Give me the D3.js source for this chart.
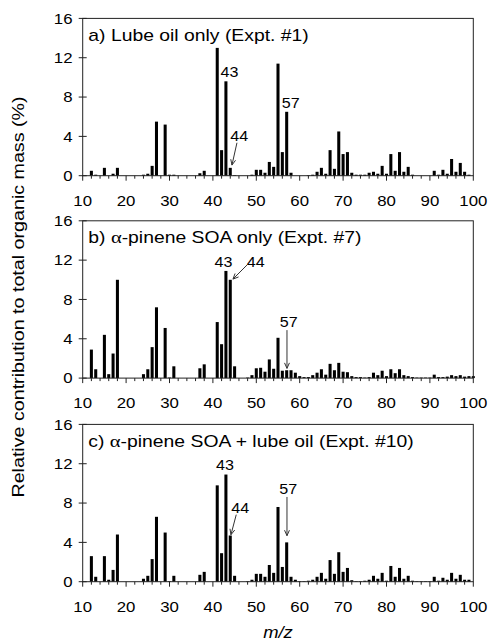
<!DOCTYPE html>
<html><head><meta charset="utf-8">
<script src="https://cdn.jsdelivr.net/npm/d3@7"></script>
<style>body{margin:0;background:#fff}svg{display:block}</style>
</head><body>
<svg id="c" width="488" height="641"></svg>
<script>
// m/z 10..100
const mz = d3.range(10, 101);
const lubeOil = [0,0,0.5,0.1,0,0.8,0,0.2,0.8,0, 0,0,0,0,0.1,0.2,1.0,5.5,0,5.2, 0.1,0.1,0,0,0,0,0,0.25,0.5,0, 0,13.0,2.6,9.6,0.8,0.05,0,0,0,0.1, 0.6,0.6,0.3,1.4,0.9,11.4,2.4,6.5,0.3,0, 0,0,0.05,0.1,0.4,0.8,0.2,2.6,0.7,4.5, 2.2,2.4,0.3,0.1,0.1,0.1,0.3,0.4,0.2,1.0, 0.2,2.2,0.5,2.4,0.4,0.9,0.1,0,0,0, 0,0.5,0.1,0.6,0.2,1.7,0.4,1.3,0.4,0.1, 0];
const pineneSOA = [0,0,2.9,0.9,0,4.4,0.4,2.5,10.0,0, 0,0,0,0,0.4,0.9,3.15,7.2,0,5.1, 0.05,1.2,0,0,0,0,0,1.0,1.4,0, 0,5.7,3.45,10.9,10.0,1.2,0,0,0.05,0.3, 1.0,1.05,0.65,1.9,0.95,4.1,0.75,0.8,0.8,0.55, 0.2,0.1,0.1,0.3,0.55,0.9,0.35,1.45,0.8,1.55, 0.65,0.6,0.2,0.1,0.1,0.05,0.1,0.55,0.3,0.75, 0.2,0.9,0.5,0.9,0.3,0.2,0.1,0.05,0.05,0.05, 0.05,0.35,0.1,0.1,0.15,0.3,0.2,0.3,0.15,0.2, 0.2];
const pineneLube = [0,0,2.6,0.5,0,2.6,0.2,1.2,4.8,0, 0,0,0,0,0.3,0.6,2.3,6.6,0,5.0, 0.05,0.6,0,0,0,0,0,0.7,1.0,0, 0,9.8,2.9,10.9,4.7,0.6,0,0,0.05,0.2, 0.8,0.8,0.5,1.7,0.9,7.6,1.5,4.0,0.5,0.2, 0.05,0.05,0.1,0.2,0.5,0.9,0.3,2.2,0.8,3.0, 1.0,1.4,0.15,0.05,0.05,0.1,0.2,0.6,0.3,0.9, 0.1,1.6,0.5,1.4,0.3,0.6,0.1,0.05,0.05,0.05, 0.05,0.5,0.1,0.4,0.2,0.9,0.3,0.7,0.2,0.2, 0];
const panelTitles = ["a) Lube oil only (Expt. #1)", "b) \u03b1-pinene SOA only (Expt. #7)", "c) \u03b1-pinene SOA + lube oil (Expt. #10)"];
const yTicks = [0, 4, 8, 12, 16];
const xTicks = [10, 20, 30, 40, 50, 60, 70, 80, 90, 100];
const yLabel = "Relative contribution to total organic mass (%)";
const xLabel = "m/z";
// annotations: [label, m/z, arrow?]
const annA = [["43", 43, false], ["44", 44, true], ["57", 57, false]];
const annB = [["43", 43, false], ["44", 44, true], ["57", 57, true]];
const annC = [["43", 43, false], ["44", 44, true], ["57", 57, true]];

const series = [lubeOil, pineneSOA, pineneLube];
const anns = [annA, annB, annC];

const svg = d3.select("#c");
const FONT = "'Liberation Sans', Arial, sans-serif";
const left = 82.7, right = 473.3, ph = 157.3;
const tops = [18.4, 220.8, 424.4];
const x = d3.scaleLinear().domain([10, 100]).range([left, right]);
const bw = (x(11) - x(10)) * 0.7;

function stxt(g, tx, ty, str, size, sx, anchor, rot) {
  const t = g.append("text")
    .attr("transform", `translate(${tx},${ty})` + (rot ? ` rotate(${rot})` : "") + ` scale(${sx},1)`)
    .attr("font-family", FONT).attr("font-size", size).attr("fill", "#000")
    .attr("text-anchor", anchor || "start");
  return t.text(str);
}

// arrow placements in data units per panel (label center dx px, label y value, arrow from/to)
const annLayout = [
  { "43": {dx: 3.5, y: 9.6, off: 4.3}, "57": {dx: 4, y: 6.5, off: 3.8},
    "44": {dx: 9, ly: 3.56, a: [6.7, 3.35, 1.7, 1.08]} },
  { "43": {dx: -2.4, y: 10.9, off: 4}, "44": {dx: 25.5, ly: 11.33, a: [16.7, 11.5, 2.7, 10.07]},
    "57": {dx: 2, ly: 5.19, a: [0.3, 4.88, 0.3, 0.99]} },
  { "43": {dx: -1, y: 10.9, off: 4.8}, "44": {dx: 10, ly: 7.0, a: [6, 6.82, 0.7, 4.78]},
    "57": {dx: 1.6, ly: 8.95, a: [0.3, 8.62, 0.3, 4.68]} }
];

series.forEach((vals, i) => {
  const top = tops[i];
  const y = d3.scaleLinear().domain([0, 16]).range([top + ph, top]);
  const g = svg.append("g");
  // bars
  g.selectAll("rect.bar").data(mz.map((m, k) => ({m, v: vals[k]})).filter(d => d.v > 0))
    .join("rect").attr("class", "bar")
    .attr("x", d => x(d.m) - bw / 2).attr("width", bw)
    .attr("y", d => y(d.v)).attr("height", d => y(0) - y(d.v))
    .attr("fill", "#000");
  // frame
  g.append("rect").attr("x", left).attr("y", top).attr("width", right - left).attr("height", ph)
    .attr("fill", "none").attr("stroke", "#222").attr("stroke-width", 1);
  // y ticks (cross)
  yTicks.forEach(t => {
    g.append("line").attr("x1", left - 4).attr("x2", left + 4).attr("y1", y(t)).attr("y2", y(t))
      .attr("stroke", "#222");
    stxt(g, 72.5, y(t) + 5.3, String(t), 15, 1.12, "end");
  });
  // x ticks: minor every 2, major every 10
  d3.range(10, 101, 2).forEach(t => {
    const major = t % 10 === 0;
    g.append("line").attr("x1", x(t)).attr("x2", x(t)).attr("y1", y(0)).attr("y2", y(0) + (major ? 5 : 3))
      .attr("stroke", "#222");
  });
  xTicks.forEach(t => stxt(g, x(t), y(0) + 30, String(t), 15, 1.12, "middle"));
  // title
  const tt = g.append("text")
    .attr("transform", `translate(88.3,${top + 22.3}) scale(1.21,1)`)
    .attr("font-family", FONT).attr("font-size", 16).attr("fill", "#000");
  const parts = panelTitles[i].split("\u03b1");
  tt.append("tspan").text(parts[0]);
  if (parts.length > 1) {
    tt.append("tspan").attr("font-family", "'Liberation Serif', 'DejaVu Serif', serif").attr("font-size", 17).text("\u03b1");
    tt.append("tspan").text(parts[1]);
  }
  // annotations
  anns[i].forEach(([lab, m, arrow]) => {
    const L = annLayout[i][lab];
    if (!arrow) {
      const v = vals[m - 10];
      stxt(g, x(m) + L.dx, y(v) - L.off, lab, 14, 1.15, "middle");
    } else {
      stxt(g, x(m) + L.dx, y(L.ly), lab, 14, 1.15, "middle");
      const [dx1, v1, dx2, v2] = L.a;
      const x1 = x(m) + dx1, y1 = y(v1), x2 = x(m) + dx2, y2 = y(v2);
      g.append("line").attr("x1", x1).attr("y1", y1).attr("x2", x2).attr("y2", y2)
        .attr("stroke", "#333").attr("stroke-width", 1);
      const ang = Math.atan2(y2 - y1, x2 - x1);
      const hl = 6, ha = 0.42;
      const p = [[x2 - hl * Math.cos(ang - ha), y2 - hl * Math.sin(ang - ha)], [x2, y2],
                 [x2 - hl * Math.cos(ang + ha), y2 - hl * Math.sin(ang + ha)]];
      g.append("path").attr("d", d3.line()(p)).attr("fill", "none").attr("stroke", "#333").attr("stroke-width", 1);
    }
  });
});

// axis titles
stxt(svg, 24, 297, yLabel, 16, 1.23, "middle", -90);
stxt(svg, (left + right) / 2, 638, xLabel, 16, 1.15, "middle").attr("font-style", "italic");
</script>
</body></html>
